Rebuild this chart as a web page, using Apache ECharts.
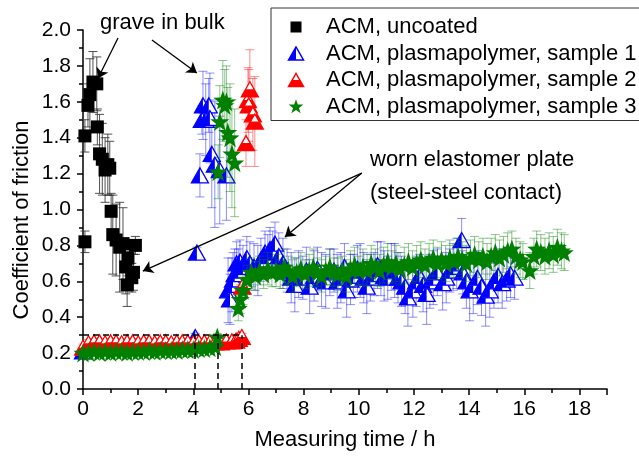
<!DOCTYPE html>
<html>
<head>
<meta charset="utf-8">
<title>Coefficient of friction</title>
<script src="https://cdn.jsdelivr.net/npm/echarts@6/dist/echarts.min.js"></script>
<style>
  html, body { margin: 0; padding: 0; background: #fff; }
  #main { width: 639px; height: 459px; }
</style>
</head>
<body>
<div id="main"></div>
<script>
// [time h, coefficient, error]
var uncoated = [
  [0.07,0.82,0.06],[0.07,1.41,0.09],[0.18,1.58,0.12],[0.25,1.64,0.2],[0.36,1.71,0.17],
  [0.5,1.70,0.15],[0.52,1.46,0.1],[0.6,1.31,0.22],[0.7,1.28,0.2],[0.8,1.22,0.18],
  [0.9,1.25,0.17],[0.97,1.23,0.15],[1.02,0.99,0.1],[1.08,0.86,0.22],[1.2,0.83,0.2],
  [1.33,0.79,0.25],[1.45,0.81,0.2],[1.55,0.68,0.15],[1.63,0.73,0.1],[1.6,0.58,0.12],
  [1.77,0.62,0.08],[1.83,0.65,0.1],[1.9,0.80,0.05]
];
var sample1 = [
  [0,0.21,0.015],[0.2,0.235,0.015],[0.4,0.24,0.015],[0.6,0.24,0.015],[0.8,0.235,0.015],
  [1.0,0.24,0.015],[1.2,0.235,0.015],[1.4,0.24,0.015],[1.6,0.24,0.015],[1.8,0.235,0.015],
  [2.0,0.24,0.015],[2.2,0.24,0.015],[2.4,0.235,0.015],[2.6,0.24,0.015],[2.8,0.24,0.015],
  [3.0,0.245,0.015],[3.2,0.24,0.015],[3.4,0.245,0.015],[3.6,0.245,0.015],[3.8,0.25,0.015],
  [4.0,0.255,0.015],[4.07,0.29,0.02],
  [4.13,0.76,0.03],[4.24,1.19,0.12],[4.31,1.50,0.08],[4.35,1.58,0.19],[4.45,1.50,0.2],
  [4.56,1.58,0.15],[4.6,1.51,0.25],[4.67,1.31,0.3],[4.78,1.25,0.35],[4.96,1.22,0.3],
  [5.2,1.19,0.25],
  [5.26,0.55,0.18],[5.33,0.50,0.14],[5.4,0.58,0.15],[5.44,0.61,0.15],[5.5,0.64,0.14],
  [5.57,0.70,0.12],[5.63,0.66,0.12],[5.69,0.71,0.12],[5.8,0.68,0.12],[5.94,0.73,0.12],
  [6.05,0.70,0.12],[6.2,0.68,0.13],[6.34,0.66,0.14],[6.45,0.72,0.12],[6.6,0.76,0.12],
  [6.7,0.74,0.12],[6.78,0.78,0.12],[6.88,0.76,0.12],[6.96,0.81,0.12],[7.1,0.74,0.13],
  [7.25,0.70,0.14],[7.4,0.66,0.12],[7.55,0.62,0.14],[7.68,0.58,0.15],[7.82,0.64,0.13],
  [7.97,0.62,0.12],[8.1,0.66,0.13],[8.22,0.57,0.15],[8.38,0.63,0.14],[8.5,0.67,0.12],
  [8.65,0.61,0.15],[8.8,0.60,0.15],[8.95,0.65,0.13],[9.1,0.66,0.12],[9.22,0.60,0.15],
  [9.35,0.62,0.14],[9.48,0.68,0.13],[9.56,0.55,0.15],[9.7,0.61,0.14],[9.8,0.63,0.12],
  [9.95,0.67,0.13],[10.05,0.66,0.15],[10.18,0.62,0.14],[10.29,0.57,0.15],[10.42,0.62,0.13],
  [10.55,0.64,0.12],[10.68,0.69,0.13],[10.8,0.67,0.15],[10.92,0.63,0.14],[11.05,0.62,0.12],
  [11.18,0.68,0.13],[11.3,0.66,0.15],[11.42,0.62,0.14],[11.55,0.60,0.14],[11.68,0.57,0.15],
  [11.78,0.51,0.16],[11.96,0.55,0.15],[12.08,0.60,0.14],[12.2,0.63,0.12],[12.33,0.58,0.15],
  [12.46,0.53,0.17],[12.58,0.60,0.15],[12.7,0.62,0.15],[12.85,0.65,0.13],[13.04,0.59,0.15],
  [13.17,0.62,0.14],[13.3,0.66,0.12],[13.42,0.68,0.13],[13.55,0.70,0.14],[13.73,0.83,0.12],
  [13.77,0.65,0.12],[13.9,0.60,0.15],[14.02,0.55,0.17],[14.15,0.58,0.16],[14.3,0.62,0.15],
  [14.45,0.57,0.16],[14.6,0.52,0.17],[14.75,0.55,0.15],[14.9,0.60,0.15],[15.05,0.63,0.15],
  [15.2,0.59,0.14],[15.36,0.61,0.12],[15.5,0.64,0.13],[15.65,0.62,0.12]
];
var sample2 = [
  [0,0.23,0.02],[0.2,0.255,0.02],[0.4,0.26,0.02],[0.6,0.26,0.02],[0.8,0.255,0.02],
  [1.0,0.26,0.02],[1.2,0.26,0.02],[1.4,0.255,0.02],[1.6,0.26,0.02],[1.8,0.26,0.02],
  [2.0,0.255,0.02],[2.2,0.26,0.02],[2.4,0.26,0.02],[2.6,0.255,0.02],[2.8,0.26,0.02],
  [3.0,0.26,0.02],[3.2,0.255,0.02],[3.4,0.26,0.02],[3.6,0.26,0.02],[3.8,0.26,0.02],
  [4.0,0.255,0.02],[4.2,0.26,0.02],[4.4,0.26,0.02],[4.6,0.26,0.02],[4.8,0.26,0.02],
  [5.0,0.26,0.02],[5.2,0.265,0.02],[5.4,0.265,0.02],[5.55,0.27,0.02],[5.65,0.28,0.02],
  [5.76,0.29,0.02],[5.78,0.57,0.05],
  [5.91,1.37,0.13],[5.98,1.61,0.18],[6.01,1.58,0.2],[6.05,1.67,0.22],[6.16,1.53,0.2],
  [6.23,1.49,0.25]
];
var sample3 = [
  [0,0.2,0.02],[0.2,0.205,0.02],[0.4,0.21,0.02],[0.6,0.205,0.02],[0.8,0.21,0.02],
  [1.0,0.205,0.02],[1.2,0.21,0.02],[1.4,0.21,0.02],[1.6,0.205,0.02],[1.8,0.21,0.02],
  [2.0,0.21,0.02],[2.2,0.21,0.02],[2.4,0.215,0.02],[2.6,0.21,0.02],[2.8,0.215,0.02],
  [3.0,0.215,0.02],[3.2,0.215,0.02],[3.4,0.215,0.02],[3.6,0.22,0.02],[3.8,0.22,0.02],
  [4.0,0.22,0.02],[4.2,0.225,0.02],[4.4,0.225,0.02],[4.6,0.23,0.02],[4.8,0.235,0.02],
  [4.87,0.29,0.02],
  [4.9,1.21,0.15],[4.96,1.49,0.2],[5.07,1.61,0.22],[5.14,1.58,0.2],[5.2,1.60,0.2],
  [5.25,1.43,0.25],[5.33,1.40,0.3],[5.4,1.31,0.3],[5.5,1.26,0.3],
  [5.63,0.45,0.07],[5.7,0.50,0.08],[5.8,0.55,0.08],[5.95,0.61,0.08],[6.1,0.65,0.08],
  [6.25,0.63,0.08],[6.4,0.66,0.08],[6.55,0.64,0.08],[6.7,0.67,0.09],[6.85,0.65,0.08],
  [7.0,0.66,0.09],[7.15,0.64,0.08],[7.3,0.68,0.1],[7.45,0.66,0.08],[7.6,0.63,0.09],
  [7.75,0.65,0.08],[7.9,0.67,0.09],[8.05,0.64,0.08],[8.2,0.66,0.09],[8.35,0.68,0.1],
  [8.5,0.65,0.08],[8.65,0.63,0.09],[8.8,0.66,0.08],[8.95,0.68,0.1],[9.1,0.65,0.08],
  [9.25,0.64,0.09],[9.4,0.66,0.08],[9.55,0.63,0.09],[9.7,0.67,0.1],[9.85,0.69,0.1],
  [10.0,0.66,0.08],[10.15,0.68,0.1],[10.3,0.66,0.09],[10.45,0.70,0.1],[10.6,0.68,0.1],
  [10.75,0.66,0.09],[10.9,0.69,0.1],[11.05,0.71,0.1],[11.2,0.68,0.09],[11.35,0.70,0.1],
  [11.5,0.67,0.09],[11.65,0.69,0.1],[11.8,0.71,0.1],[11.95,0.68,0.09],[12.1,0.70,0.1],
  [12.25,0.72,0.1],[12.4,0.69,0.09],[12.55,0.71,0.1],[12.7,0.73,0.1],[12.85,0.70,0.09],
  [13.0,0.72,0.1],[13.15,0.70,0.1],[13.3,0.73,0.1],[13.45,0.71,0.09],[13.6,0.74,0.1],
  [13.75,0.72,0.1],[13.9,0.70,0.1],[14.05,0.73,0.1],[14.2,0.75,0.1],[14.35,0.72,0.1],
  [14.5,0.74,0.1],[14.65,0.71,0.1],[14.8,0.74,0.1],[14.95,0.76,0.1],[15.1,0.73,0.1],
  [15.25,0.75,0.1],[15.4,0.77,0.1],[15.55,0.78,0.1],[15.7,0.74,0.1],[15.85,0.72,0.1],
  [15.95,0.71,0.1],[16.2,0.66,0.1],[16.35,0.74,0.1],[16.45,0.78,0.1],[16.6,0.76,0.1],
  [16.75,0.74,0.1],[16.9,0.77,0.1],[17.05,0.75,0.1],[17.2,0.79,0.1],[17.35,0.77,0.1],
  [17.45,0.76,0.1]
];
var seriesNames = ['ACM, uncoated', 'ACM, plasmapolymer, sample 1',
  'ACM, plasmapolymer, sample 2', 'ACM, plasmapolymer, sample 3'];
// dashed guide segments, data coordinates
var guides = [
  [[0, 0.3], [5.76, 0.3]],
  [[4.07, 0], [4.07, 0.3]],
  [[4.87, 0], [4.87, 0.3]],
  [[5.76, 0], [5.76, 0.3]]
];
// annotation arrows, data coordinates
var arrows = [
  [[1.27, 1.955], [0.54, 1.73]],
  [[2.5, 1.944], [4.13, 1.76]],
  [[10.11, 1.203], [2.17, 0.657]],
  [[10.11, 1.203], [7.32, 0.847]]
];

var FONT = 'Liberation Sans, Arial, sans-serif';
var starPath = 'path://M0,-10 L2.35,-3.24 L9.51,-3.09 L3.8,1.24 L5.88,8.09 L0,4 L-5.88,8.09 L-3.8,1.24 L-9.51,-3.09 L-2.35,-3.24 Z';

function svgIcon(body) {
  var s = "<svg xmlns='http://www.w3.org/2000/svg' width='18' height='16' viewBox='0 0 18 16'>" + body + '</svg>';
  return 'image://data:image/svg+xml;charset=utf-8,' + encodeURIComponent(s);
}
var icons = [
  svgIcon("<rect x='3.5' y='2.5' width='11' height='11' fill='#000'/>"),
  svgIcon("<polygon points='1.5,14.5 9,1.5 16.5,14.5' fill='#fff' stroke='#00f' stroke-width='1.5'/><polygon points='1.5,14.5 9,1.5 9,14.5' fill='#00f'/>"),
  svgIcon("<polygon points='1.5,14.5 9,1.5 16.5,14.5' fill='#fff' stroke='#f00' stroke-width='1.5'/><polygon points='1.5,14.5 5.2,8 12.8,8 16.5,14.5' fill='#f00'/>"),
  svgIcon("<path transform='translate(9,8.5) scale(0.78)' d='M0,-10 L2.35,-3.24 L9.51,-3.09 L3.8,1.24 L5.88,8.09 L0,4 L-5.88,8.09 L-3.8,1.24 L-9.51,-3.09 L-2.35,-3.24 Z' fill='#008000'/>")
];

function errRender(color) {
  return function (params, api) {
    var x = api.value(0), y = api.value(1), e = api.value(2);
    var t = api.coord([x, y + e]), b = api.coord([x, y - e]);
    var s = { stroke: color, lineWidth: 1 };
    return { type: 'group', children: [
      { type: 'line', shape: { x1: t[0], y1: t[1], x2: b[0], y2: b[1] }, style: s },
      { type: 'line', shape: { x1: t[0] - 4.5, y1: t[1], x2: t[0] + 4.5, y2: t[1] }, style: s },
      { type: 'line', shape: { x1: b[0] - 4.5, y1: b[1], x2: b[0] + 4.5, y2: b[1] }, style: s }
    ] };
  };
}

function triRender(color, half) {
  return function (params, api) {
    var p = api.coord([api.value(0), api.value(1)]);
    var cx = p[0], cy = p[1], w = 8.5, h = 7.5;
    var part = half === 'left'
      ? [[cx - w, cy + h], [cx, cy - h], [cx, cy + h]]
      : [[cx - w, cy + h], [cx - w / 2, cy], [cx + w / 2, cy], [cx + w, cy + h]];
    return { type: 'group', children: [
      { type: 'polygon', shape: { points: [[cx - w, cy + h], [cx, cy - h], [cx + w, cy + h]] },
        style: { fill: '#fff', stroke: color, lineWidth: 1.3 } },
      { type: 'polygon', shape: { points: part }, style: { fill: color } }
    ] };
  };
}

function errSeries(name, data, color) {
  return { name: name, type: 'custom', data: data, encode: { x: 0, y: 1 },
    renderItem: errRender(color), silent: true };
}

var chart = echarts.init(document.getElementById('main'));
chart.setOption({
  animation: false,
  grid: { left: 83, top: 30, right: 32, bottom: 70 },
  legend: {
    orient: 'vertical', left: 271, top: 8,
    padding: [8, 4, 3, 16], itemGap: 4.5, itemWidth: 18, itemHeight: 16,
    borderColor: '#333', borderWidth: 1, backgroundColor: '#fff',
    selectedMode: false,
    textStyle: { fontSize: 22, fontFamily: FONT, color: '#000', lineHeight: 22, padding: [0, 0, 0, 16] },
    data: seriesNames.map(function (n, i) { return { name: n, icon: icons[i] }; })
  },
  xAxis: {
    type: 'value', min: 0, max: 19, interval: 2,
    name: 'Measuring time / h', nameLocation: 'middle', nameGap: 40,
    nameTextStyle: { fontSize: 22, fontFamily: FONT, color: '#000' },
    axisLine: { lineStyle: { color: '#000', width: 1.5 } },
    axisTick: { length: 6, lineStyle: { color: '#000', width: 1.5 } },
    minorTick: { show: true, splitNumber: 2, length: 4, lineStyle: { color: '#000', width: 1.5 } },
    axisLabel: { fontSize: 21, fontFamily: FONT, color: '#000', margin: 10,
      formatter: function (v) { return v % 2 === 0 ? String(v) : ''; } },
    splitLine: { show: false }
  },
  yAxis: {
    type: 'value', min: 0, max: 2, interval: 0.2,
    axisLine: { show: true, lineStyle: { color: '#000', width: 1.5 } },
    axisTick: { show: true, length: 6, lineStyle: { color: '#000', width: 1.5 } },
    minorTick: { show: true, splitNumber: 2, length: 4, lineStyle: { color: '#000', width: 1.5 } },
    axisLabel: { fontSize: 21, fontFamily: FONT, color: '#000', margin: 12,
      formatter: function (v) { return v.toFixed(1); } },
    splitLine: { show: false }
  },
  graphic: [
    { type: 'text', x: 22, y: 220, rotation: Math.PI / 2,
      style: { text: 'Coefficient of friction', font: '22px ' + FONT, fill: '#000', align: 'center', verticalAlign: 'middle' } },
    { type: 'text', x: 100, y: 23,
      style: { text: 'grave in bulk', font: '22px ' + FONT, fill: '#000', align: 'left', verticalAlign: 'middle' } },
    { type: 'text', x: 370, y: 160,
      style: { text: 'worn elastomer plate', font: '22px ' + FONT, fill: '#000', align: 'left', verticalAlign: 'middle' } },
    { type: 'text', x: 370, y: 193,
      style: { text: '(steel-steel contact)', font: '22px ' + FONT, fill: '#000', align: 'left', verticalAlign: 'middle' } }
  ],
  series: [
    errSeries('err0', uncoated, 'rgba(50,50,50,0.85)'),
    { name: seriesNames[0], type: 'scatter', data: uncoated, symbol: 'rect', symbolSize: 13,
      itemStyle: { color: '#000', opacity: 1 },
      markLine: { silent: true, symbol: ['none', 'none'], label: { show: false },
        lineStyle: { color: '#000', width: 1.5, type: [6, 4] },
        data: guides.map(function (g) { return [{ coord: g[0] }, { coord: g[1] }]; }) } },
    errSeries('err1', sample1, 'rgba(0,0,255,0.45)'),
    { name: seriesNames[1], type: 'custom', data: sample1, encode: { x: 0, y: 1 },
      renderItem: triRender('#0000ff', 'left'), itemStyle: { color: '#0000ff' } },
    errSeries('err2', sample2, 'rgba(255,0,0,0.45)'),
    { name: seriesNames[2], type: 'custom', data: sample2, encode: { x: 0, y: 1 },
      renderItem: triRender('#ff0000', 'bottom'), itemStyle: { color: '#ff0000' } },
    errSeries('err3', sample3, 'rgba(0,128,0,0.45)'),
    { name: seriesNames[3], type: 'scatter', data: sample3, symbol: starPath, symbolSize: 19,
      itemStyle: { color: '#008000', opacity: 1 },
      markLine: { silent: true, symbol: ['none', 'arrow'], symbolSize: 10, label: { show: false },
        lineStyle: { color: '#000', width: 1.3, type: 'solid' },
        data: arrows.map(function (a) { return [{ coord: a[0] }, { coord: a[1] }]; }) } }
  ]
});
</script>
</body>
</html>
